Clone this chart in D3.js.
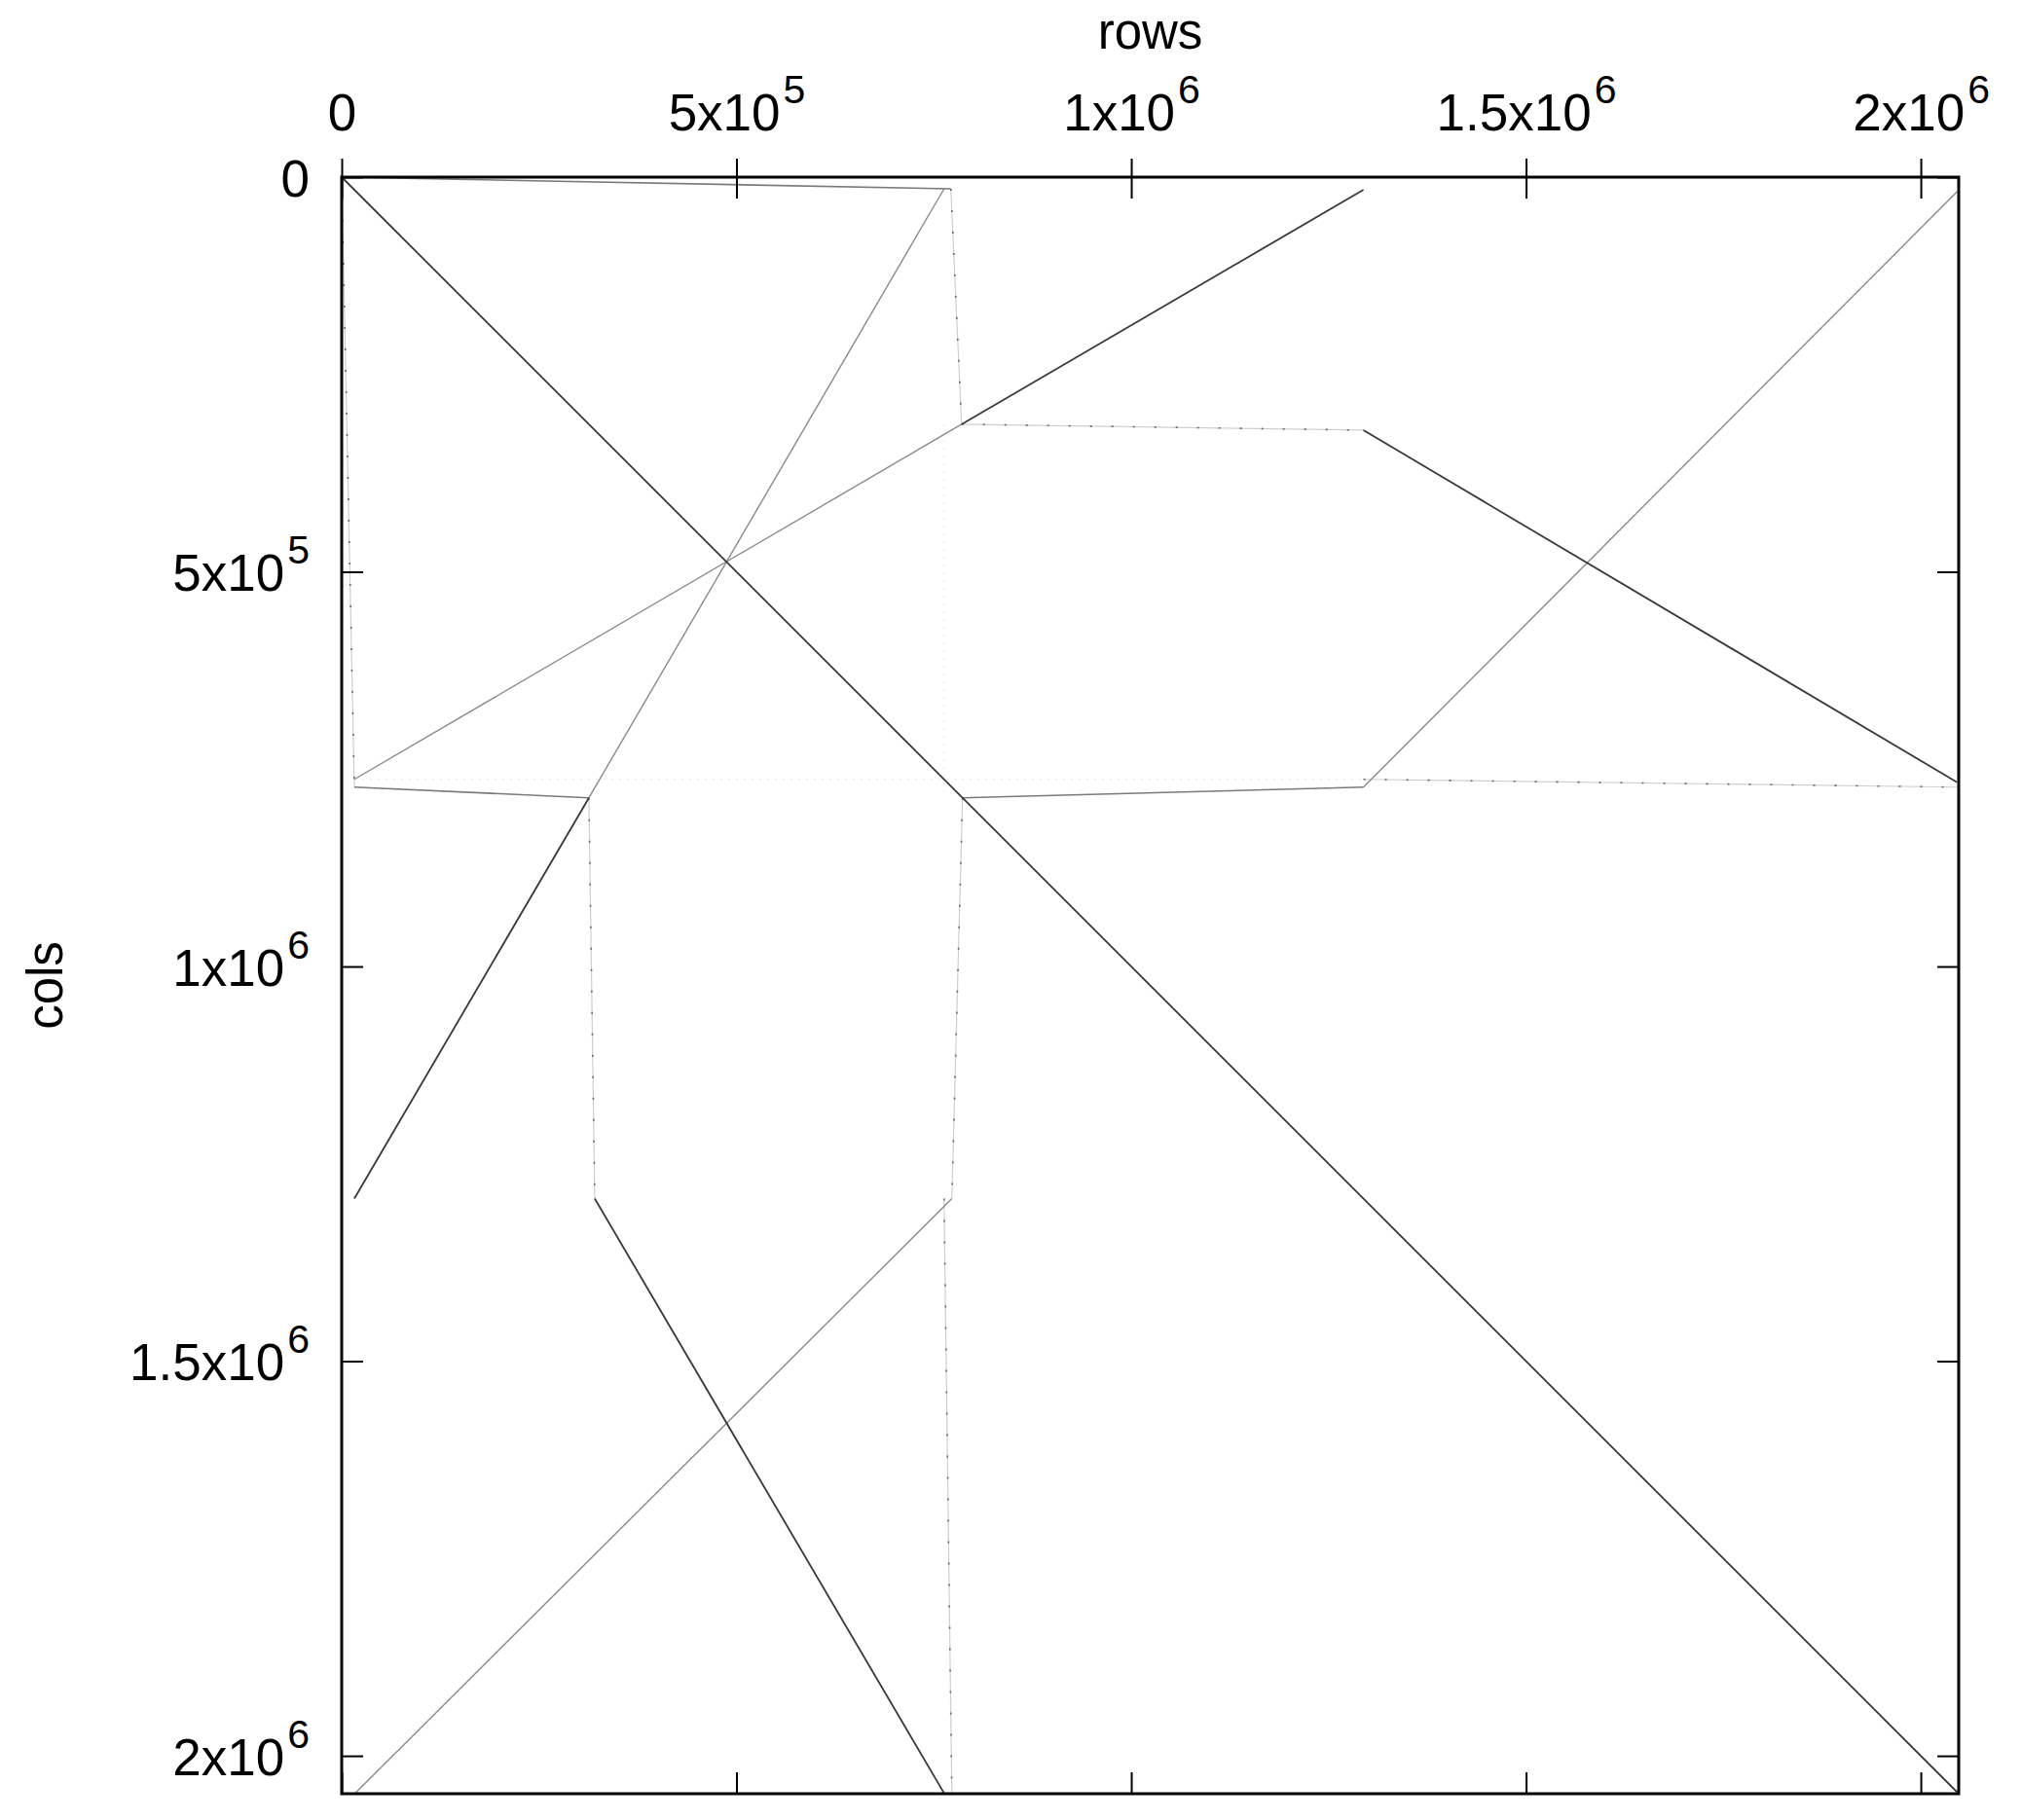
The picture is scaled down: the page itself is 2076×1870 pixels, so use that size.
<!DOCTYPE html>
<html>
<head>
<meta charset="utf-8">
<script src="https://cdn.jsdelivr.net/npm/d3@7"></script>
<style>
  body { margin: 0; background: #fff; }
  text { font-family: "Liberation Sans", Arial, sans-serif; fill: #000; }
</style>
</head>
<body>
<div id="chart"></div>
<script>
// matrix size (rows and cols)
const matrixSize = 2048000;

// tick values and their labels (mantissa x 10^exponent)
const tickValues = [0, 500000, 1000000, 1500000, 2000000];
const tickBase = ['0', '5x10', '1x10', '1.5x10', '2x10'];
const tickExp = ['', '5', '6', '6', '6'];

// nonzero bands, as [row0, col0, row1, col1]
const darkBands = [
    [0, 0, 2048000, 2048000],
    [785100, 313100, 1294100, 16000],
    [313100, 786300, 16000, 1294100],
    [1294100, 320500, 2045900, 766600],
    [320500, 1294100, 762900, 2047200]
];
const grayBands = [
    [762900, 14800, 313100, 786300],
    [16000, 762900, 785100, 313100],
    [2045900, 18500, 1294100, 772800],
    [772800, 1294100, 17300, 2047200]
];
const midBands = [
    [0, 0, 771500, 14800],
    [16000, 772800, 313100, 786300],
    [786300, 786300, 1294100, 772800]
];
const dottedBands = [
    [0, 0, 16000, 772800],
    [771500, 14800, 785100, 313100],
    [785100, 313100, 1294100, 320500],
    [1294100, 762900, 2045900, 772800],
    [313100, 786300, 320500, 1294100],
    [786300, 786300, 772800, 1294100],
    [762900, 1294100, 772800, 2047200]
];
const faintBands = [
    [16000, 762900, 1294100, 762900],
    [762900, 313100, 762900, 786300]
];

const width = 2076, height = 1870;
const margin = { left: 351, top: 182 };
const size = 1661;

const svg = d3.select('#chart')
    .append('svg')
    .attr('width', width)
    .attr('height', height);

const g = svg.append('g')
    .attr('transform', `translate(${margin.left}, ${margin.top})`);

const x = d3.scaleLinear().domain([0, matrixSize]).range([0, size]);
const y = d3.scaleLinear().domain([0, matrixSize]).range([0, size]);

// bands
function drawBands(data, stroke, widthPx, dash) {
    g.append('g')
        .selectAll('line')
        .data(data)
        .enter()
        .append('line')
        .attr('x1', d => x(d[0]))
        .attr('y1', d => y(d[1]))
        .attr('x2', d => x(d[2]))
        .attr('y2', d => y(d[3]))
        .style('stroke', stroke)
        .style('stroke-width', widthPx)
        .style('stroke-dasharray', dash || null);
}

drawBands(faintBands, '#e6e6e6', 1, '2,6');
drawBands(dottedBands, '#cfcfcf', 1.2);
drawBands(dottedBands, '#666', 1.6, '2,20');
drawBands(grayBands, '#8a8a8a', 1.4);
drawBands(midBands, '#7a7a7a', 1.6);
drawBands(darkBands, '#383838', 1.8);

// labels with superscript exponent
function setLabel(sel, anchor) {
    sel.each(function(d) {
        const i = tickValues.indexOf(d);
        const t = d3.select(this).text('').attr('text-anchor', anchor);
        t.append('tspan').text(tickBase[i]);
        if (tickExp[i]) {
            t.append('tspan')
                .attr('dx', 3)
                .attr('dy', -28)
                .style('font-size', '41px')
                .text(tickExp[i]);
        }
    });
}

// top axis: labels and outward ticks
const xTop = g.append('g')
    .call(d3.axisTop(x).tickValues(tickValues).tickSize(19).tickPadding(29));
xTop.select('.domain').remove();
xTop.selectAll('line').style('stroke', '#000').style('stroke-width', 2);
xTop.selectAll('text').style('font-size', '53px').attr('dy', 0).call(setLabel, 'middle');

// left axis: labels
const yLeft = g.append('g')
    .call(d3.axisLeft(y).tickValues(tickValues).tickSize(0).tickPadding(33));
yLeft.select('.domain').remove();
yLeft.selectAll('text').style('font-size', '53px').attr('dy', 19).call(setLabel, 'end');

// inward ticks on all four sides
const inner = [
    [d3.axisBottom(x), 'translate(0,0)'],
    [d3.axisTop(x), `translate(0,${size})`],
    [d3.axisRight(y), 'translate(0,0)'],
    [d3.axisLeft(y), `translate(${size},0)`]
];
inner.forEach(([axis, tr]) => {
    const a = g.append('g')
        .attr('transform', tr)
        .call(axis.tickValues(tickValues).tickSize(22).tickFormat(''));
    a.select('.domain').remove();
    a.selectAll('line').style('stroke', '#000').style('stroke-width', 2);
});

// border
g.append('rect')
    .attr('width', size)
    .attr('height', size)
    .style('fill', 'none')
    .style('stroke', '#000')
    .style('stroke-width', 3);

// axis titles
svg.append('text')
    .attr('x', margin.left + size / 2)
    .attr('y', 50)
    .attr('text-anchor', 'middle')
    .style('font-size', '51px')
    .text('rows');

svg.append('text')
    .attr('transform', `translate(64, ${margin.top + size / 2}) rotate(-90)`)
    .attr('text-anchor', 'middle')
    .style('font-size', '51px')
    .text('cols');
</script>
</body>
</html>
